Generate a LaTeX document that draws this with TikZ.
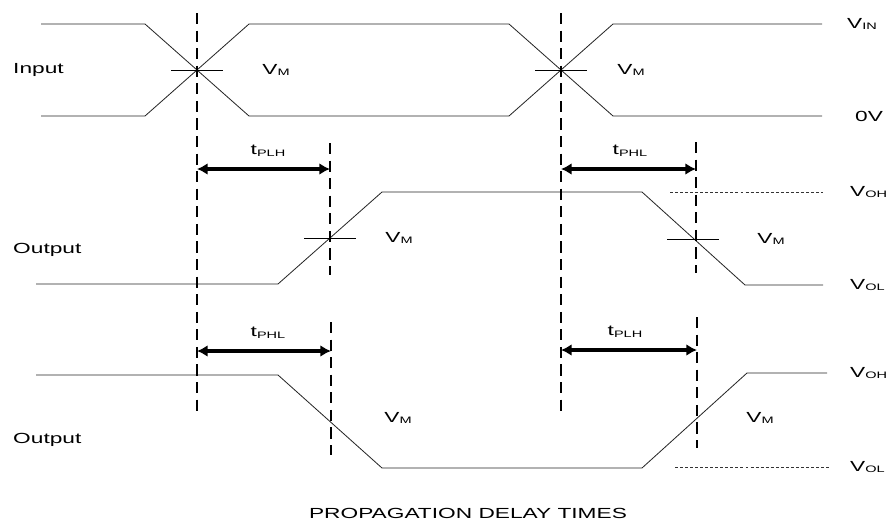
\documentclass[tikz,border=0pt]{standalone}
\usepackage{fontspec}
\setmainfont{Liberation Sans}[FakeStretch=1.55]
\usetikzlibrary{arrows.meta}

\newcommand\lowsub[2]{#1\raisebox{-1.5pt}{\fontsize{8}{9}\selectfont #2}}

\begin{document}
\begin{tikzpicture}[x=0.03cm,y=-0.03cm,
    wave/.style={line width=0.7pt, black!85},
    marker/.style={dash pattern=on 9.5pt off 5.5pt, line width=1.4pt},
    level/.style={dash pattern=on 2.5pt off 1.8pt, line width=0.5pt, black!80},
    tick/.style={line width=0.6pt},
    delay/.style={{Latex[length=9pt,width=10pt]}-{Latex[length=9pt,width=10pt]}, line width=3.2pt},
    lbl/.style={font=\fontsize{12.5}{14}\selectfont, inner sep=0pt}]
    \useasboundingbox (0,0) rectangle (886,525);

    % 波形: 输入 / 输出 / 输出
    \draw[wave] (41,24) -- (145,24) -- (249,116) -- (509,116) -- (613,24) -- (822,24);
    \draw[wave] (41,116) -- (145,116) -- (249,24) -- (509,24) -- (613,116) -- (822,116);
    \draw[wave] (36,284) -- (278,284) -- (382,192) -- (642,192) -- (745,285) -- (823,285);
    \draw[wave] (36,375) -- (278,375) -- (382,468) -- (642,468) -- (747,373) -- (827,373);
    \draw[level] (670,192) -- (823,192);
    \draw[level] (675,467) -- (830,467);

    \foreach \x/\top/\bot[count=\n] in {197/13/412, 561/13/412, 330/143/275,
                                         696/142/273, 331/322/455, 697/317/448}{
        \coordinate (m\n t) at (\x,\top);
        \coordinate (m\n b) at (\x,\bot);
        \draw[marker] (m\n t) -- (m\n b);
    }

    \foreach \x/\y in {197/70, 561/70, 330/238, 693/239}{
        \draw[tick] (\x-26,\y) -- (\x+26,\y);
    }

    \foreach \xa/\xb/\y/\xt/\tag[count=\n] in {197/330/169/268/PLH, 561/696/169/630/PHL,
                                              197/331/351/268/PHL, 561/697/350/625/PLH}{
        \coordinate (d\n l) at (\xa,\y);
        \coordinate (d\n r) at (\xb,\y);
        \draw[delay] (d\n l) -- (d\n r);
        \node[lbl] (t\n) at (\xt,\y-18) {\lowsub{t}{\tag}};
    }

    \foreach \x/\y[count=\n] in {276/70, 631/70, 399/238, 771/239, 398/418, 760/418}{
        \node[lbl] (vm\n) at (\x,\y) {\lowsub{V}{M}};
    }

    \node[lbl, anchor=west] (vin)  at (847,24)  {\lowsub{V}{IN}};
    \node[lbl, anchor=west] (zero) at (855,116) {0V};
    \node[lbl, anchor=west] (voh1) at (850,192) {\lowsub{V}{OH}};
    \node[lbl, anchor=west] (vol1) at (850,285) {\lowsub{V}{OL}};
    \node[lbl, anchor=west] (voh2) at (850,373) {\lowsub{V}{OH}};
    \node[lbl, anchor=west] (vol2) at (850,467) {\lowsub{V}{OL}};

    \node[lbl, anchor=west] (input) at (13,70)  {Input};
    \node[lbl, anchor=west] (out1)  at (13,250) {Output};
    \node[lbl, anchor=west] (out2)  at (13,440) {Output};

    \node[lbl] (title) at (468,513) {PROPAGATION DELAY TIMES};
\end{tikzpicture}
\end{document}
